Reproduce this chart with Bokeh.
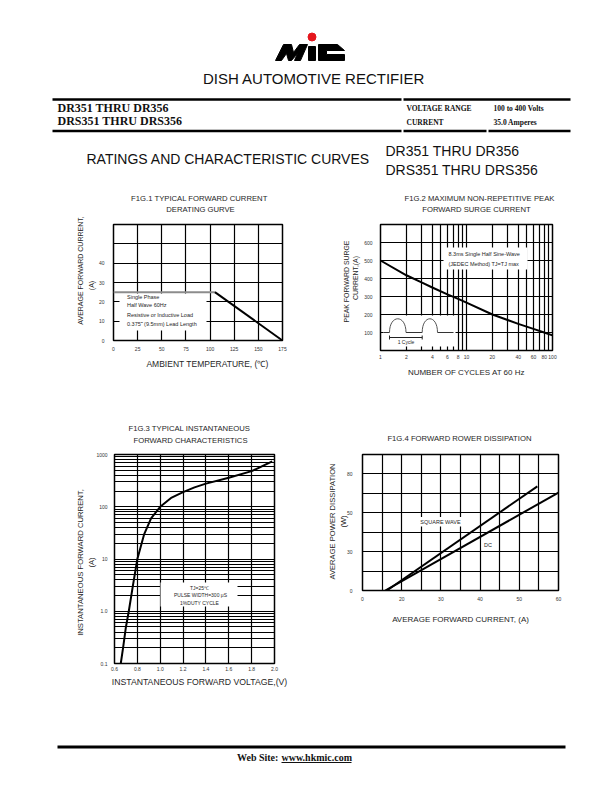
import math
from bokeh.plotting import figure
from bokeh.layouts import column, row
from bokeh.models import (Range1d, Label, BoxAnnotation, FixedTicker,
                          NumeralTickFormatter, LinearScale)
from bokeh.embed import file_html
from bokeh.resources import INLINE
from bokeh.core.properties import value

# ---------------- data ----------------
# FIG.1 derating curve
f1_temp = [0, 105, 175]
f1_current = [25, 25, 0]
f1_xticks = [0, 25, 50, 75, 100, 125, 150, 175]
f1_yticks = [0, 10, 20, 30, 40]
f1_ygrid = [10, 20, 30, 40, 50]

# FIG.2 surge current
f2_cycles = [1, 2, 3, 4, 6, 8, 10, 20, 40, 60, 80, 100]
f2_current = [500, 418, 378, 350, 312, 287, 266, 200, 148, 120, 100, 84]
f2_xticks = [1, 2, 4, 6, 8, 10, 20, 40, 60, 80, 100]
f2_xminor = [3, 5, 7, 9, 30, 50, 70, 90]
f2_yticks = [100, 200, 300, 400, 500, 600]

# FIG.3 forward characteristics
f3_voltage = [0.655, 0.675, 0.70, 0.725, 0.76, 0.80, 0.86, 0.92, 1.0, 1.1,
              1.2, 1.3, 1.4, 1.6, 1.8, 1.98]
f3_current = [0.1, 0.2, 0.5, 1.0, 3, 10, 30, 60, 100, 150,
              190, 235, 277, 360, 480, 740]
f3_xticks = [0.6, 0.8, 1.0, 1.2, 1.4, 1.6, 1.8, 2.0]
f3_yticks = [0.1, 1, 10, 100, 1000]
f3_ylabels = ["0.1", "1.0", "10", "100", "1000"]
f3_mantissas = [2, 3, 4, 5, 6, 7, 8, 9]
f3_decades = [0.1, 1, 10, 100]

# FIG.4 power dissipation (axis positions with printed labels)
f4_square_i = [16.2, 54.6]
f4_square_p = [0, 53.6]
f4_dc_i = [15.8, 60]
f4_dc_p = [0, 50.4]
f4_xticks = [10, 20, 30, 40, 50, 60]
f4_xlabels = ["0", "20", "30", "40", "50", "60"]
f4_xgrid = [15, 20, 25, 30, 35, 40, 45, 50, 55]
f4_yticks = [0, 20, 40, 60]
f4_ylabels = ["0", "30", "50", "80"]
f4_ygrid = [10, 20, 30, 40, 50, 60]

SANS = "Liberation Sans"
SERIF = "Liberation Serif"
INK = "#262626"


def page_fig(w, h, top):
    p = figure(width=w, height=h, x_range=Range1d(0, w), y_range=Range1d(top + h, top),
               x_axis_location=None, y_axis_location=None, output_backend="svg",
               toolbar_location=None, min_border=0)
    p.grid.visible = False
    p.outline_line_color = None
    p.background_fill_color = "white"
    p.border_fill_color = "white"
    return p


def chart(w, h, ox, oy, L, R, bt, bb, x_range, y_range, x_type="linear", y_type="linear"):
    bl = round(L - ox)
    br = w - round(R - ox)
    p = figure(width=w, height=h, x_range=x_range, y_range=y_range,
               x_axis_type=x_type, y_axis_type=y_type,
               min_border_left=bl, min_border_right=br,
               min_border_top=bt, min_border_bottom=bb,
               output_backend="svg", toolbar_location=None)
    p.extra_x_ranges = {"pg": Range1d(ox + bl, ox + w - br)}
    p.extra_y_ranges = {"pg": Range1d(oy + h - bb, oy + bt)}
    p.extra_x_scales = {"pg": LinearScale()}
    p.extra_y_scales = {"pg": LinearScale()}
    p.background_fill_color = "white"
    p.border_fill_color = "white"
    p.outline_line_color = "black"
    p.outline_line_width = 1.5
    for ax in p.axis:
        ax.axis_line_color = None
        ax.major_tick_line_color = None
        ax.minor_tick_line_color = None
        ax.major_tick_out = 0
        ax.major_tick_in = 0
        ax.minor_tick_out = 0
        ax.minor_tick_in = 0
        ax.major_label_text_font = SANS
        ax.major_label_text_font_size = "5px"
        ax.major_label_text_color = "#333333"
    p.grid.grid_line_color = "black"
    p.grid.grid_line_width = 1.2
    return p


def lab(p, x, y, text, size, angle=0.0, align="center", place="center", color=INK):
    p.add_layout(Label(x=x, y=y, x_range_name="pg", y_range_name="pg", text=text,
                       text_font=SANS, text_font_size=size, text_align=align,
                       text_baseline="middle", angle=angle, text_color=color), place)


def wbox(p, l, t, r, b):
    p.add_layout(BoxAnnotation(left=l, right=r, top=t, bottom=b, x_range_name="pg",
                               y_range_name="pg", fill_color="white", fill_alpha=1.0,
                               line_color=None, level="underlay"))


# ---------------- header ----------------
hdr = page_fig(612, 190, 0)
# logo
hdr.patch([275, 283, 291, 293, 299, 307, 300, 294, 297, 291, 288, 286, 281],
          [60, 44, 44, 52, 44, 44, 60, 60, 53, 60, 60, 53, 60], color="black")
hdr.patch([308, 315, 315, 308], [46, 46, 60, 60], color="black")
hdr.patch([318, 337, 344, 326, 326, 344, 344, 318], [44, 44, 50, 50, 54, 54, 60, 60], color="black")
hdr.circle(x=[311.5], y=[36.5], radius=4, color="#e5161d")


def htext(x, y, t, size, font=SANS, style="normal", align="left"):
    hdr.text(x=[x], y=[y], text=[t], text_font=value(font), text_font_size=size,
             text_font_style=style, text_align=align, text_baseline="middle", text_color="#111111")


htext(313.5, 78, "DISH AUTOMOTIVE RECTIFIER", "15px", align="center")
hdr.multi_line([[52, 401], [403, 570], [52, 401], [403, 486], [488, 570]],
               [[99, 99], [99, 99], [130.5, 130.5], [130.5, 130.5], [130.5, 130.5]],
               line_color="black", line_width=2.5)
htext(57, 107, "DR351 THRU DR356", "12px", font=SERIF, style="bold")
htext(57, 120.5, "DRS351 THRU DRS356", "12px", font=SERIF, style="bold")
htext(406, 107.5, "VOLTAGE RANGE", "7.5px", font=SERIF, style="bold")
htext(406, 121.5, "CURRENT", "7.5px", font=SERIF, style="bold")
htext(493, 107.5, "100 to 400 Volts", "7.5px", font=SERIF, style="bold")
htext(493, 121.5, "35.0 Amperes", "7.5px", font=SERIF, style="bold")
htext(86, 158.5, "RATINGS AND CHARACTERISTIC CURVES", "14px")
htext(385, 150, "DR351 THRU DR356", "14px")
htext(385, 169, "DRS351 THRU DRS356", "14px")

# ---------------- FIG.1 ----------------  (row band 190-400)
p1 = chart(306, 200, 0, 190, 113, 282, 34, 50, Range1d(0, 175), Range1d(0, 60))
p1.xaxis.ticker = FixedTicker(ticks=f1_xticks)
p1.yaxis.ticker = FixedTicker(ticks=f1_yticks)
p1.xgrid.ticker = FixedTicker(ticks=f1_xticks)
p1.ygrid.ticker = FixedTicker(ticks=f1_ygrid)
p1.xaxis.major_label_standoff = 6
p1.yaxis.major_label_standoff = 9
wbox(p1, 119, 293, 206, 330)
p1.line(f1_temp[:2], f1_current[:2], line_color="#8c8c8c", line_width=2)
p1.line(f1_temp[1:], f1_current[1:], line_color="black", line_width=2)
for ty, t in [(296, "Single Phase"), (304.5, "Half Wave 60Hz"),
              (314.5, "Resistive or Inductive Load"), (323.5, "0.375\u02dd (9.5mm) Lead Length")]:
    lab(p1, 126.5, ty, t, "5.5px", align="left")
lab(p1, 200, 197.5, "F1G.1  TYPICAL FORWARD CURRENT", "7.7px", place="above")
lab(p1, 200, 208.5, "DERATING GURVE", "7.7px", place="above")
lab(p1, 207, 363.5, "AMBIENT TEMPERATURE, (\u2103)", "8.5px", place="below")
lab(p1, 80, 270, "AVERAGE FORWARD CURRENT,", "7px", angle=math.pi / 2, place="left")
lab(p1, 91, 285, "(A)", "7px", angle=math.pi / 2, place="left")

# ---------------- FIG.2 ----------------
p2 = chart(306, 210, 306, 190, 380, 552, 34, 50, Range1d(1, 100), Range1d(0, 700), x_type="log")
p2.xaxis.ticker = FixedTicker(ticks=f2_xticks, minor_ticks=f2_xminor)
p2.xaxis.formatter = NumeralTickFormatter(format="0")
p2.yaxis.ticker = FixedTicker(ticks=f2_yticks)
p2.xgrid.minor_grid_line_color = "black"
p2.xgrid.minor_grid_line_width = 1.2
p2.xaxis.major_label_standoff = 4
p2.yaxis.major_label_standoff = 8
wbox(p2, 443, 247, 527, 269)
wbox(p2, 383, 315, 455, 346)
p2.line(f2_cycles, f2_current, line_color="black", line_width=2)
# inset waveform sketch
p2.multi_line([[383, 389], [405.5, 421.7], [437, 453]], [[332, 332], [332, 332], [332, 332]],
              x_range_name="pg", y_range_name="pg", line_color="#333333", line_width=1)
p2.bezier(x0=[389, 421.7], y0=[332, 332], x1=[405.5, 437], y1=[332, 332],
          cx0=[389, 421.7], cy0=[313.7, 313.7], cx1=[405.5, 437], cy1=[313.7, 313.7],
          x_range_name="pg", y_range_name="pg", line_color="#555555", line_width=1)
p2.multi_line([[389, 421.7], [389, 389], [421.7, 421.7]], [[337, 337], [335, 339], [335, 339]],
              x_range_name="pg", y_range_name="pg", line_color="#222222", line_width=1)
lab(p2, 405.5, 341.5, "1 Cycle", "5px")
lab(p2, 448, 253.5, "8.3ms Single Half Sine-Wave", "5.5px", align="left")
lab(p2, 448, 263.5, "(JEDEC Method) TJ=TJ max", "5.5px", align="left")
lab(p2, 480, 197.5, "F1G.2  MAXIMUM NON-REPETITIVE PEAK", "7.7px", place="above")
lab(p2, 476, 208.5, "FORWARD SURGE CURRENT", "7.7px", place="above")
lab(p2, 466, 371.5, "NUMBER OF CYCLES AT 60 Hz", "8px", place="below")
lab(p2, 346, 281, "PEAK FORWARD SURGE", "6.9px", angle=math.pi / 2, place="left")
lab(p2, 355, 277.5, "CURRENT,(A)", "6.9px", angle=math.pi / 2, place="left")

# ---------------- FIG.3 ----------------  (row band 400-710)
f3_minor = [m * d for d in f3_decades for m in f3_mantissas]
p3 = chart(306, 310, 0, 400, 114, 274, 54, 47, Range1d(0.6, 2.0), Range1d(0.1, 1000), y_type="log")
p3.xaxis.ticker = FixedTicker(ticks=f3_xticks)
p3.xaxis.formatter = NumeralTickFormatter(format="0.0")
p3.yaxis.ticker = FixedTicker(ticks=f3_yticks, minor_ticks=f3_minor)
p3.yaxis.major_label_overrides = dict(zip(f3_yticks, f3_ylabels))
p3.ygrid.minor_grid_line_color = "black"
p3.ygrid.minor_grid_line_width = 1.0
p3.ygrid.grid_line_width = 1.2
p3.xaxis.major_label_standoff = 3
p3.yaxis.major_label_standoff = 7
wbox(p3, 160, 582, 237, 606)
p3.line(f3_voltage, f3_current, line_color="black", line_width=2)
lab(p3, 199, 587, "TJ=25\u2103", "5px")
lab(p3, 200, 594.5, "PULSE WIDTH=300 \u03bcS", "5px")
lab(p3, 199, 602, "1%DUTY CYCLE", "5px")
lab(p3, 190, 427.5, "F1G.3  TYPICAL INSTANTANEOUS", "7.7px", place="above")
lab(p3, 190, 440, "FORWARD CHARACTERISTICS", "7.7px", place="above")
lab(p3, 199, 681.5, "INSTANTANEOUS FORWARD VOLTAGE,(V)", "8.7px", place="below")
lab(p3, 80, 562, "INSTANTANEOUS FORWARD CURRENT,", "7.7px", angle=math.pi / 2, place="left")
lab(p3, 91, 562, "(A)", "7.7px", angle=math.pi / 2, place="left")

# ---------------- FIG.4 ----------------
p4 = chart(306, 237, 306, 400, 362, 558, 54, 47, Range1d(10, 60), Range1d(0, 70))
p4.xaxis.ticker = FixedTicker(ticks=f4_xticks)
p4.xaxis.major_label_overrides = dict(zip(f4_xticks, f4_xlabels))
p4.yaxis.ticker = FixedTicker(ticks=f4_yticks)
p4.yaxis.major_label_overrides = dict(zip(f4_yticks, f4_ylabels))
p4.xgrid.ticker = FixedTicker(ticks=f4_xgrid)
p4.ygrid.ticker = FixedTicker(ticks=f4_ygrid)
p4.xaxis.major_label_standoff = 6
p4.yaxis.major_label_standoff = 10
wbox(p4, 418, 516.5, 462, 526)
wbox(p4, 481, 539, 494, 548)
p4.line(f4_square_i, f4_square_p, line_color="black", line_width=2)
p4.line(f4_dc_i, f4_dc_p, line_color="black", line_width=2)
lab(p4, 440, 521, "SQUARE WAVE", "5.5px")
lab(p4, 487.5, 544, "DC", "5.5px")
lab(p4, 460, 437.5, "F1G.4  FORWARD ROWER DISSIPATION", "7.7px", place="above")
lab(p4, 460, 618.5, "AVERAGE FORWARD CURRENT, (A)", "8px", place="below")
lab(p4, 332, 521, "AVERAGE POWER DISSIPATION", "7.6px", angle=math.pi / 2, place="left")
lab(p4, 343, 521, "(W)", "7.6px", angle=math.pi / 2, place="left")

# ---------------- footer ----------------  (710-792)
ft = page_fig(612, 82, 710)
ft.line([57, 565], [746.5, 746.5], line_color="black", line_width=3)
ft.text(x=[236.5], y=[757.3], text=["Web Site:"], text_font=value(SERIF), text_font_style="bold",
        text_font_size="10px", text_align="left", text_baseline="middle", text_color="#111111")
ft.text(x=[281], y=[757.3], text=["www.hkmic.com"], text_font=value(SERIF), text_font_style="bold",
        text_font_size="10px", text_align="left", text_baseline="middle", text_color="#111111")
ft.line([281, 351], [762, 762], line_color="#111111", line_width=1)

layout = column(hdr, row(p1, p2), row(p3, p4), ft)
open("out.html", "w").write(file_html(layout, INLINE, title="DR351 curves"))
